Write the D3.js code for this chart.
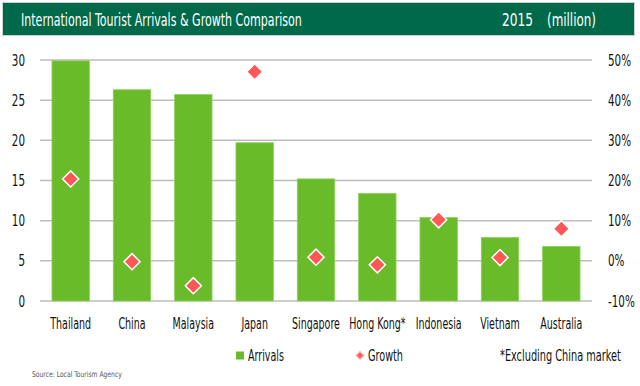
<!DOCTYPE html>
<html>
<head>
<meta charset="UTF-8">
<title>International Tourist Arrivals</title>
<script src="https://d3js.org/d3.v7.min.js"></script>
<style>
  body { margin: 0; background: #fff; }
  svg text { font-family: "DejaVu Sans Condensed", "DejaVu Sans", sans-serif; font-stretch: condensed; }
</style>
</head>
<body>
<svg id="chart" width="640" height="386"></svg>
<script>
// data
var countries = ["Thailand", "China", "Malaysia", "Japan", "Singapore", "Hong Kong*", "Indonesia", "Vietnam", "Australia"];
var arrivals = [29.9, 26.3, 25.7, 19.7, 15.2, 13.4, 10.4, 7.9, 6.8];
var growth = [20.4, -0.2, -6.2, 47.1, 0.9, -1.0, 10.2, 0.8, 8.0];
var leftTicks = [0, 5, 10, 15, 20, 25, 30];
var rightTicks = [-10, 0, 10, 20, 30, 40, 50];

var svg = d3.select("#chart");
var fs = 16;       // label font size
var sxWord = 0.66; // horizontal squeeze to mimic the condensed face
var sxNum = 0.72;

// text squeezed to a given width (title, legend, source)
function label(x, y, txt, size, len, color) {
  var t = svg.append("text")
    .attr("font-size", size)
    .attr("fill", color)
    .text(txt);
  var w = t.node().getComputedTextLength();
  t.attr("transform", "translate(" + x + "," + y + ") scale(" + (len / w) + ",1)");
  return t;
}

// title band
svg.append("rect")
  .attr("x", 2.5).attr("y", 2.5).attr("width", 632).attr("height", 33)
  .attr("fill", "#00694a").attr("stroke", "#cfcfcf").attr("stroke-width", 1);
label(21, 26, "International Tourist Arrivals & Growth Comparison", 17, 281, "#fff");
label(502, 26, "2015", 17, 31, "#fff");
label(547, 26, "(million)", 17, 49, "#fff");

var pl = 40, pr = 592, pt = 60, pb = 301;

var x = d3.scaleBand().domain(countries).range([pl, pr]).paddingInner(0.39).paddingOuter(0.195);
var y = d3.scaleLinear().domain([0, 30]).range([pb, pt]);
var y2 = d3.scaleLinear().domain([-10, 50]).range([pb, pt]);

// gridlines
svg.append("g").selectAll("line")
  .data(leftTicks)
  .join("line")
  .attr("x1", pl).attr("x2", pr)
  .attr("y1", function(d) { return y(d); }).attr("y2", function(d) { return y(d); })
  .attr("stroke", "#bdbdbd").attr("stroke-width", 1.5);

// left axis
var yAxis = d3.axisLeft(y).tickValues(leftTicks).tickSize(0);
var gy = svg.append("g").attr("transform", "translate(" + pl + ",0)").call(yAxis);
gy.attr("font-family", null);
gy.select(".domain").remove();
gy.selectAll("text")
  .attr("font-size", fs).attr("fill", "#111")
  .attr("x", 0)
  .attr("transform", "translate(-15,0) scale(" + sxNum + ",1)");

// right axis
var y2Axis = d3.axisRight(y2).tickValues(rightTicks).tickSize(0)
  .tickFormat(function(d) { return d + "%"; });
var gy2 = svg.append("g").attr("transform", "translate(" + pr + ",0)").call(y2Axis);
gy2.attr("font-family", null);
gy2.select(".domain").remove();
gy2.selectAll("text")
  .attr("font-size", fs).attr("fill", "#111")
  .attr("x", 0)
  .attr("transform", "translate(16,0) scale(" + sxNum + ",1)");

// bars
svg.append("g").selectAll("rect")
  .data(arrivals)
  .join("rect")
  .attr("x", function(d, i) { return x(countries[i]); })
  .attr("y", function(d) { return y(d); })
  .attr("width", x.bandwidth())
  .attr("height", function(d) { return y(0) - y(d); })
  .attr("fill", "#6abb2a")
  .attr("stroke", "#8fd35c").attr("stroke-width", 0.8);

// growth diamonds
svg.append("g").selectAll("path")
  .data(growth)
  .join("path")
  .attr("d", d3.symbol().type(d3.symbolSquare).size(130))
  .attr("transform", function(d, i) {
    return "translate(" + (x(countries[i]) + x.bandwidth() / 2) + "," + y2(d) + ") rotate(45)";
  })
  .attr("fill", "#ff5757").attr("stroke", "#fff").attr("stroke-width", 1.5);

// x labels
var xAxis = d3.axisBottom(x).tickSize(0);
var gx = svg.append("g").attr("transform", "translate(0," + pb + ")").call(xAxis);
gx.attr("font-family", null);
gx.select(".domain").remove();
gx.selectAll("text")
  .attr("font-size", fs).attr("fill", "#111")
  .attr("y", 28).attr("dy", null)
  .attr("transform", "scale(" + sxWord + ",1)");

// legend
svg.append("rect").attr("x", 236).attr("y", 351.5).attr("width", 8).attr("height", 8).attr("fill", "#6abb2a");
label(248, 361, "Arrivals", fs, 36, "#111");
svg.append("path")
  .attr("d", d3.symbol().type(d3.symbolSquare).size(36))
  .attr("transform", "translate(360,355.5) rotate(45)")
  .attr("fill", "#ff5757").attr("stroke", "#f1d0d0").attr("stroke-width", 1.5);
label(368, 361, "Growth", fs, 35, "#111");
label(500, 361, "*Excluding China market", fs, 121, "#111");

// source
label(32, 377, "Source: Local Tourism Agency", 8, 90, "#555");
</script>
</body>
</html>
